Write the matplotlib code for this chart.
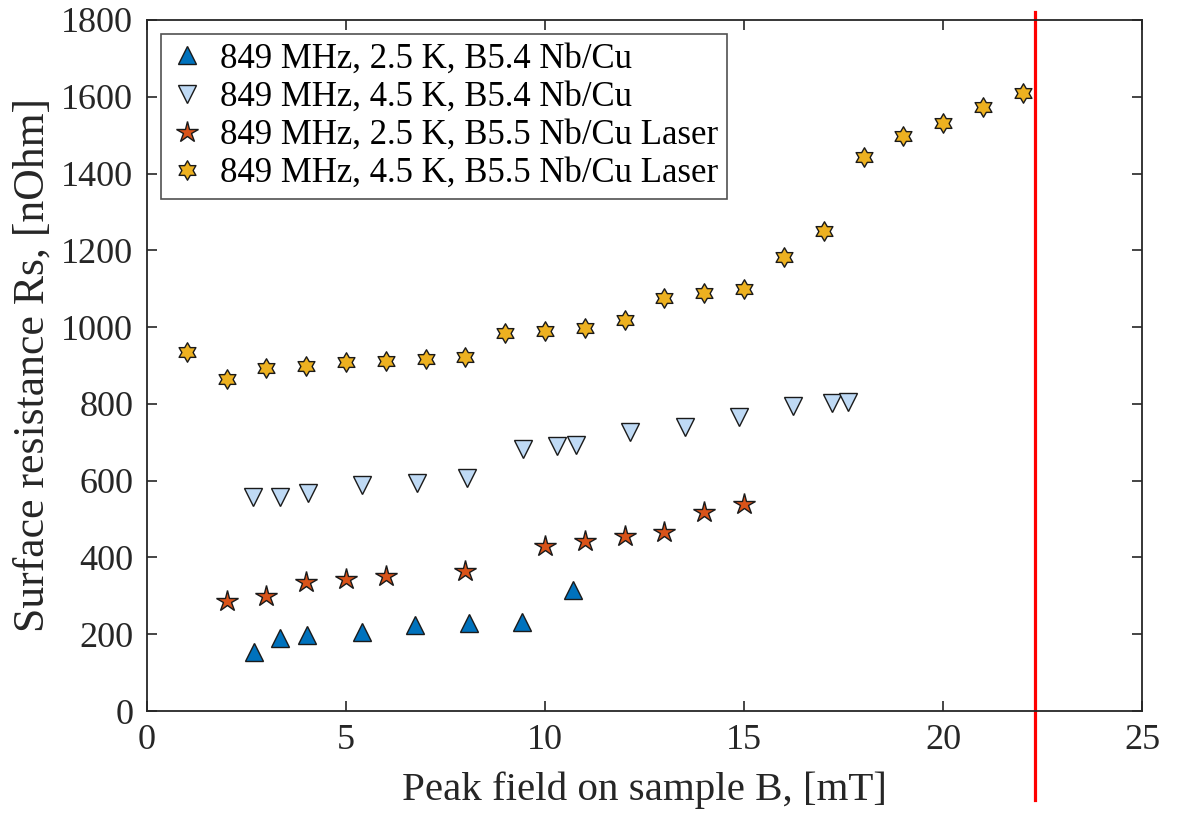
import numpy as np
import matplotlib
matplotlib.use('Agg')
import matplotlib.pyplot as plt
from matplotlib.path import Path

plt.rcParams['font.family'] = ['Liberation Serif', 'DejaVu Serif']

# 849 MHz, 2.5 K, B5.4 Nb/Cu
b54_25k_x = [2.69, 3.34, 4.01, 5.41, 6.73, 8.08, 9.43, 10.71]
b54_25k_y = [154, 189, 198, 207, 224, 228, 233, 315]

# 849 MHz, 4.5 K, B5.4 Nb/Cu
b54_45k_x = [2.65, 3.34, 4.04, 5.40, 6.77, 8.04, 9.45, 10.29, 10.78, 12.14, 13.52, 14.86, 16.22, 17.21, 17.6]
b54_45k_y = [557, 557, 569, 590, 593, 606, 682, 691, 693, 727, 739, 767, 795, 801, 804]

# 849 MHz, 2.5 K, B5.5 Nb/Cu Laser
b55_25k_x = [2, 3, 4, 5, 6, 8, 10, 11, 12, 13, 14, 15]
b55_25k_y = [287, 300, 335, 344, 352, 364, 431, 444, 457, 467, 519, 539]

# 849 MHz, 4.5 K, B5.5 Nb/Cu Laser
b55_45k_x = list(range(1, 23))
b55_45k_y = [936, 866, 893, 899, 910, 912, 917, 923, 984, 990, 998, 1018,
             1077, 1090, 1100, 1182, 1250, 1444, 1498, 1532, 1574, 1609]

labels = ['849 MHz, 2.5 K, B5.4 Nb/Cu',
          '849 MHz, 4.5 K, B5.4 Nb/Cu',
          '849 MHz, 2.5 K, B5.5 Nb/Cu Laser',
          '849 MHz, 4.5 K, B5.5 Nb/Cu Laser']

limit_field = 22.31


def hexagram():
    verts = []
    for i in range(12):
        ang = np.pi / 2 + i * np.pi / 6
        r = 1.0 if i % 2 == 0 else 1 / np.sqrt(3)
        verts.append((r * np.cos(ang), r * np.sin(ang)))
    verts.append(verts[0])
    codes = [Path.MOVETO] + [Path.LINETO] * 11 + [Path.CLOSEPOLY]
    return Path(verts, codes)


fig = plt.figure(figsize=(11.86, 8.14), dpi=100)
ax = fig.add_axes([0.124, 0.1265, 0.839, 0.849])

edge = '#1a1a1a'
ax.plot(b54_25k_x, b54_25k_y, ls='none', marker='^', ms=13, mfc='#0072BD',
        mec=edge, mew=1.0, label=labels[0])
ax.plot(b54_45k_x, b54_45k_y, ls='none', marker='v', ms=13, mfc='#BFDAF5',
        mec=edge, mew=1.0, label=labels[1])
ax.plot(b55_25k_x, b55_25k_y, ls='none', marker='*', ms=16, mfc='#D95319',
        mec=edge, mew=1.0, label=labels[2])
ax.plot(b55_45k_x, b55_45k_y, ls='none', marker=hexagram(), ms=14, mfc='#EDB120',
        mec=edge, mew=1.0, label=labels[3])

ax.plot([limit_field, limit_field], [-232, 1821], color='red', lw=2.3, clip_on=False)

ax.set_xlim(0, 25)
ax.set_ylim(0, 1800)
ax.set_xticks(np.arange(0, 26, 5))
ax.set_yticks(np.arange(0, 1801, 200))
ax.tick_params(direction='in', top=True, right=True, length=7, width=1.2,
               labelsize=26, colors='#262626')
ax.tick_params(axis='x', pad=9)
ax.tick_params(axis='y', pad=10)
for s in ax.spines.values():
    s.set_color('#262626')
    s.set_linewidth(1.3)

ax.set_xlabel('Peak field on sample B, [mT]', fontsize=29.5, color='#262626', labelpad=11)
ax.set_ylabel('Surface resistance Rs, [nOhm]', fontsize=31.5, color='#262626', labelpad=6)

leg = ax.legend(loc='upper left', fontsize=25, frameon=True, fancybox=False,
                edgecolor='#262626', borderaxespad=0.4, handletextpad=0.45,
                labelspacing=0.15, borderpad=0.25, handlelength=1.0)
leg.get_frame().set_linewidth(1.2)

fig.savefig('out.png', dpi=100, facecolor='white')
